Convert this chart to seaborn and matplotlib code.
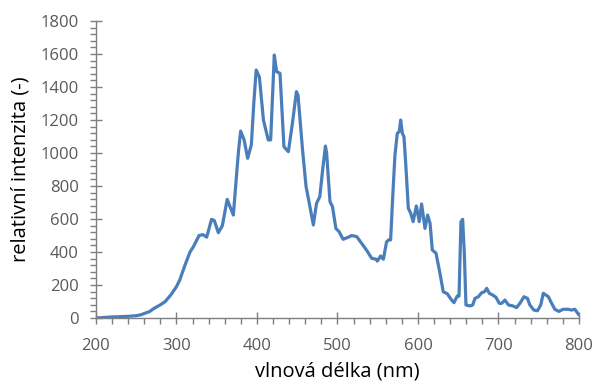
import matplotlib
matplotlib.use("Agg")
import matplotlib.pyplot as plt
import seaborn as sns
import pandas as pd
from matplotlib.ticker import MultipleLocator

wavelength = [200, 218, 239, 250, 256, 267, 271, 280, 286, 293, 300, 304, 310.6, 316.8, 321, 328,
              333, 337.5, 343.6, 347, 352, 357, 363, 370.6, 377, 379.7, 384, 388.4, 393, 396,
              399, 403, 408, 414, 417, 421.5, 424.4, 428.6, 433.5, 439, 444, 449, 451, 456.6,
              461, 465, 470, 474, 478, 482, 485, 486.5, 490.7, 493.8, 498, 502, 507, 513.5,
              517.6, 524, 530, 536, 542.5, 548, 549.5, 553.6, 557, 561, 564, 566, 568.4, 571.4,
              574.3, 576.8, 578.5, 580.6, 582.6, 585, 588, 591, 594, 598, 601.6, 604.5, 608.7,
              612, 615, 617.8, 622.4, 627.3, 631.4, 636.4, 641.8, 644.7, 648.8, 651, 653.4,
              655.5, 657.5, 659.6, 664.6, 668, 670.8, 675, 679, 682.6, 685.4, 688.7, 693, 697,
              701, 704, 708, 712.4, 718, 722.5, 726.6, 731.7, 736, 739, 744, 748.5, 752.5,
              755.7, 759, 762, 765, 770, 775, 780.4, 786.6, 790.7, 795, 799, 800]
intensity = [0, 6, 10, 14, 20, 40, 55, 80, 100, 140, 190, 230, 321, 400, 432, 500,
             505, 490, 598, 590, 517, 560, 719, 624, 1010, 1133, 1080, 968, 1050, 1300,
             1503, 1460, 1200, 1079, 1080, 1594, 1493, 1483, 1038, 1008, 1180, 1372, 1350, 1018,
             796, 695, 564, 695, 735, 917, 1042, 1000, 705, 675, 543, 523, 477, 490,
             500, 493, 453, 412, 362, 356, 345, 376, 356, 462, 475, 473, 715, 988,
             1119, 1130, 1200, 1119, 1099, 917, 665, 635, 584, 679, 584, 691, 543,
             624, 574, 412, 393, 271, 159, 147, 109, 93, 133, 133, 584,
             598, 400, 79, 73, 79, 119, 129, 153, 159, 180, 149, 139, 125,
             89, 89, 109, 79, 73, 63, 89, 129, 119, 79, 48, 44, 79,
             150, 139, 129, 99, 53, 40, 53, 53, 48, 53, 25, 18]

df = pd.DataFrame({"wl": wavelength, "I": intensity})

sns.set_style("white")
plt.rcParams["font.family"] = ["Open Sans", "DejaVu Sans"]

fig = plt.figure(figsize=(5.94, 3.82), dpi=100)
ax = fig.add_axes([0.1616, 0.1675, 0.8131, 0.7775])
sns.lineplot(data=df, x="wl", y="I", ax=ax, color="#4a7ebb", linewidth=2.3)

ax.set_xlim(200, 800)
ax.set_ylim(0, 1800)
ax.xaxis.set_major_locator(MultipleLocator(100))
ax.xaxis.set_minor_locator(MultipleLocator(20))
ax.yaxis.set_major_locator(MultipleLocator(200))
ax.yaxis.set_minor_locator(MultipleLocator(40))

for s in ["top", "right"]:
    ax.spines[s].set_visible(False)
for s in ["left", "bottom"]:
    ax.spines[s].set_color("#7f7f7f")
    ax.spines[s].set_linewidth(1.0)

ax.tick_params(axis="both", which="both", bottom=True, left=True, top=False, right=False)
ax.tick_params(axis="both", which="major", direction="inout", length=9, width=1,
               color="#7f7f7f", labelsize=12, labelcolor="#595959")
ax.tick_params(axis="both", which="minor", direction="out", length=4.5, width=1,
               color="#7f7f7f")
ax.tick_params(axis="x", which="major", pad=10)
ax.tick_params(axis="y", which="major", pad=8)

ax.set_xlabel("vlnová délka (nm)", fontsize=14.5, color="#000000", labelpad=5)
ax.set_ylabel("relativní intenzita (-)", fontsize=14.5, color="#000000", labelpad=7)

fig.savefig("out.png", dpi=100)
